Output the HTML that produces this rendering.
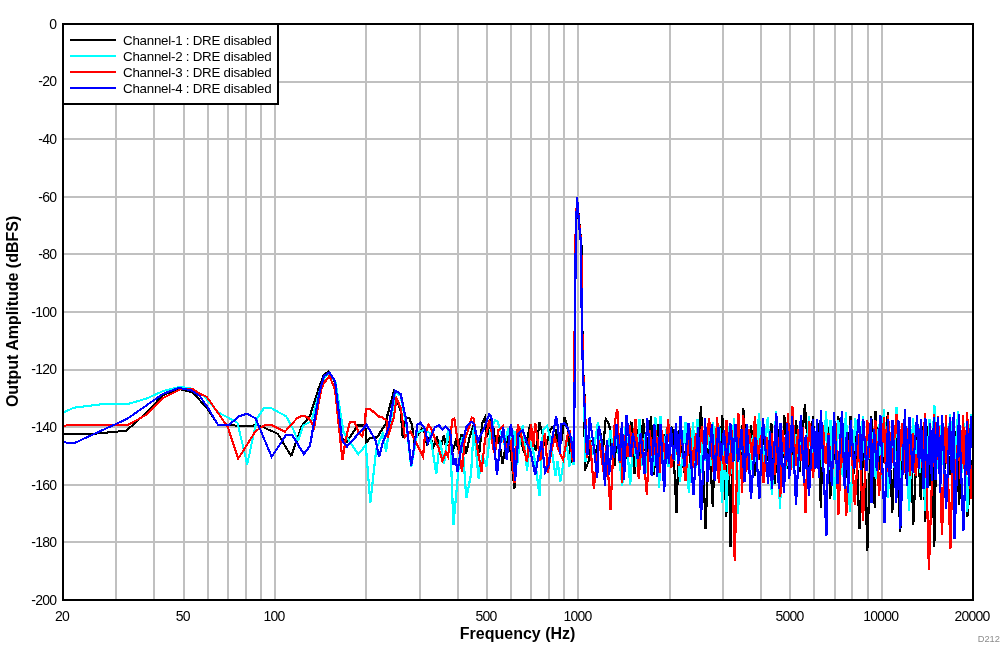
<!DOCTYPE html>
<html><head><meta charset="utf-8"><title>Output Amplitude vs Frequency</title>
<style>
html,body{margin:0;padding:0;background:#fff;}
svg{display:block;font-family:"Liberation Sans",Arial,sans-serif;}
.t{font-size:13.33px;fill:#000;}
.b{font-size:16px;font-weight:bold;fill:#000;}
.tr{fill:none;stroke-width:2;stroke-linejoin:miter;shape-rendering:crispEdges;}
.w{stroke-width:2.2;}
.g line{stroke:#c0c0c0;stroke-width:2;shape-rendering:crispEdges;}
</style></head><body>
<svg width="1008" height="652" viewBox="0 0 1008 652">
<rect width="1008" height="652" fill="#fff"/>
<g class="g"><line x1="116" y1="24" x2="116" y2="600"/><line x1="154" y1="24" x2="154" y2="600"/><line x1="184" y1="24" x2="184" y2="600"/><line x1="208" y1="24" x2="208" y2="600"/><line x1="228" y1="24" x2="228" y2="600"/><line x1="246" y1="24" x2="246" y2="600"/><line x1="261" y1="24" x2="261" y2="600"/><line x1="275" y1="24" x2="275" y2="600"/><line x1="366" y1="24" x2="366" y2="600"/><line x1="420" y1="24" x2="420" y2="600"/><line x1="458" y1="24" x2="458" y2="600"/><line x1="487" y1="24" x2="487" y2="600"/><line x1="511" y1="24" x2="511" y2="600"/><line x1="531" y1="24" x2="531" y2="600"/><line x1="549" y1="24" x2="549" y2="600"/><line x1="564" y1="24" x2="564" y2="600"/><line x1="578" y1="24" x2="578" y2="600"/><line x1="670" y1="24" x2="670" y2="600"/><line x1="723" y1="24" x2="723" y2="600"/><line x1="761" y1="24" x2="761" y2="600"/><line x1="790" y1="24" x2="790" y2="600"/><line x1="814" y1="24" x2="814" y2="600"/><line x1="835" y1="24" x2="835" y2="600"/><line x1="852" y1="24" x2="852" y2="600"/><line x1="868" y1="24" x2="868" y2="600"/><line x1="882" y1="24" x2="882" y2="600"/><line x1="63" y1="82" x2="973" y2="82"/><line x1="63" y1="139" x2="973" y2="139"/><line x1="63" y1="197" x2="973" y2="197"/><line x1="63" y1="254" x2="973" y2="254"/><line x1="63" y1="312" x2="973" y2="312"/><line x1="63" y1="370" x2="973" y2="370"/><line x1="63" y1="427" x2="973" y2="427"/><line x1="63" y1="485" x2="973" y2="485"/><line x1="63" y1="542" x2="973" y2="542"/></g>
<polyline class="tr" stroke="#000" points="63.0,434.0 92.0,434.0 126.3,430.7 139.6,418.9 163.3,395.1 178.7,388.8 192.6,392.3 199.6,400.0 206.8,408.0 217.9,424.8 251.4,426.2 255.6,424.8 264.0,427.6 277.9,433.8 291.2,456.2"/>
<polyline class="tr w" stroke="#000" points="291.2,456.2 301.7,426.2 310.0,415.7 318.4,389.2 324.0,374.6 328.8,371.5 334.5,381.0 341.5,438.0 347.0,441.6 357.5,425.5 363.0,425.5 365.8,429.0 366.5,442.3 370.0,438.1 377.0,437.4 386.1,423.4 387.5,415.0 393.8,392.0 400.7,410.9 402.8,438.1 404.9,417.8 409.1,417.8 411.9,424.8 414.0,440.2 421.7,429.0 425.0,432.9 427.1,445.4 430.0,436.0 433.5,447.0 437.0,438.0 441.0,446.8 443.8,435.0 446.0,447.0 449.0,438.0 452.5,452.0 456.0,440.0 458.5,450.0 461.3,434.3 463.4,441.3 466.1,453.8 469.6,437.1 473.0,427.0 476.0,440.0 479.4,452.4 482.2,423.1 485.0,417.6 487.1,437.1 490.0,420.0 492.1,419.0 495.6,442.7 498.5,436.0 502.6,463.6 505.5,447.0 508.5,434.0 511.6,460.8 514.4,488.7 517.0,447.0 520.0,436.0 523.5,450.0 527.0,440.0 530.4,423.8 533.0,440.0 536.0,451.0 539.5,422.4 542.3,432.9 546.0,447.0 550.0,430.1 552.1,427.3 555.5,430.0 558.5,445.0 561.7,439.9 564.5,417.6 567.3,425.9 571.5,462.2 574.0,462.0 575.7,243.0 577.0,198.5 579.8,228.0 581.4,243.0 582.0,308.0 583.1,369.0 584.5,396.0 584.7,470.6 588.9,460.8 592.0,440.0 596.0,455.0 600.0,430.0 603.0,450.0 605.7,419.0 609.2,424.5 612.0,450.0 614.5,466.1 617.4,424.2 621.3,469.1 624.3,434.2 627.7,459.9 631.6,421.6 634.4,474.2 636.9,428.9 639.0,470.3 643.1,419.1 646.2,458.8 651.0,416.3 653.8,475.4 657.9,424.0 661.6,461.6 665.4,434.2 668.6,461.4 672.3,426.6 676.5,512.5 679.3,429.8 684.1,472.4 687.3,428.1 690.3,464.6 693.8,434.6 697.8,457.5 701.0,406.3 705.6,529.3 709.1,435.5 712.8,507.1 715.2,432.3 719.5,458.1 722.3,415.4 726.3,517.1 728.5,430.6 730.5,547.0 732.7,430.2 735.1,460.7 738.4,431.8 740.9,467.7 743.3,408.3 747.2,464.0 751.1,425.4 755.0,475.8 758.0,435.4 760.2,460.3 763.6,437.4 768.3,461.1 771.4,423.5 774.8,483.6 778.1,429.1 781.5,479.3 784.3,415.4 787.8,468.5 790.8,428.7 792.6,466.0 796.1,420.4 799.5,471.9 804.9,404.5 809.3,466.8 813.0,416.3 815.0,465.4 818.6,423.3 820.8,508.4 822.9,424.8 825.2,462.6 828.5,427.4 830.3,499.3 832.4,433.0 835.8,461.2 838.3,416.3 841.6,470.7 844.5,429.4 847.1,478.1 850.5,416.4 853.5,473.5 856.2,433.7 859.4,529.2 864.2,432.1 867.3,551.3 871.3,416.3 874.8,508.4 875.4,411.3 879.1,470.3 881.0,423.6 884.3,463.4 887.9,412.3 892.3,513.0 895.6,427.2 900.3,532.1 903.3,427.3 906.7,480.7 910.3,431.9 913.3,524.5 917.4,434.2 920.8,500.0 923.0,426.1 925.1,522.2 927.2,425.9 929.9,485.5 931.7,434.7 934.3,547.4 936.5,428.0 938.7,464.6 942.4,430.3 944.4,469.1 947.0,434.9 949.7,474.6 952.3,428.5 954.0,474.3 956.3,430.6 959.1,505.3 963.4,425.1 967.3,516.8 973.0,456.0"/>
<polyline class="tr" stroke="#0ff" points="63.0,412.6 74.0,407.7 101.9,404.2 128.4,403.8 146.5,398.6 163.3,390.9 178.7,387.0 189.8,387.9 204.0,396.1 217.9,412.2 237.5,422.7 247.2,464.5 257.0,418.5 264.0,408.0 271.0,408.0 286.3,416.4 293.3,429.6 298.2,441.0"/>
<polyline class="tr w" stroke="#0ff" points="298.2,441.0 303.1,425.5 311.4,421.3 319.8,390.6 324.5,377.0 329.5,373.5 335.5,382.0 343.5,432.0 358.2,454.3 365.8,445.2 370.3,503.2 376.3,448.7 382.6,433.4 386.1,451.5 388.2,436.2 395.5,392.0 400.7,396.0 406.3,424.0 411.2,466.9 417.5,432.0 424.0,430.0 430.0,433.0 436.3,473.9 440.0,440.0 444.0,464.1 447.0,440.0 448.0,428.7 450.5,447.0 453.4,525.0 459.9,453.8 462.0,437.1 466.3,498.3 471.0,474.7 473.8,427.3 478.7,478.9 482.5,455.0 486.4,466.4 490.6,430.1 494.9,420.3 497.7,421.7 501.0,433.0 504.5,445.0 508.1,428.7 511.0,440.0 514.4,430.8 517.2,465.0 520.0,440.0 522.8,425.2 527.0,470.6 530.0,441.0 533.2,451.0 536.3,470.0 539.5,495.7 543.0,430.1 547.2,425.9 550.5,440.0 555.5,476.1 557.6,460.8 560.3,481.7 563.8,460.8 566.5,442.0 569.4,466.4 572.2,437.1 573.6,465.0 573.7,462.0 575.4,243.0 577.0,198.5 579.4,228.0 581.0,243.0 581.6,308.0 582.8,369.0 584.1,396.0 585.4,462.2 589.0,435.0 593.0,455.0 598.0,421.7 601.5,450.0 606.0,465.0 610.6,430.1 613.0,452.0 615.5,428.1 622.3,485.5 625.6,426.8 630.2,484.9 633.6,435.4 636.6,466.5 639.5,419.1 641.5,465.7 645.0,434.6 647.5,473.3 649.9,431.4 653.2,471.5 655.4,417.3 659.3,488.0 660.6,416.3 663.5,464.2 666.1,429.3 668.5,466.6 671.2,436.3 674.7,460.6 676.7,436.1 680.0,481.8 685.4,421.6 688.8,492.6 693.1,422.5 695.2,473.1 697.6,419.5 700.2,476.3 702.7,439.5 704.9,460.8 708.0,425.4 710.7,465.6 713.1,421.6 716.2,465.9 719.3,424.7 722.0,503.4 724.4,436.8 726.5,512.0 728.9,426.5 731.6,474.4 733.9,418.5 738.1,514.0 740.9,432.8 744.4,471.7 747.6,435.2 750.7,469.5 752.8,435.1 756.6,461.7 758.9,413.5 762.4,466.1 767.8,417.3 771.9,495.0 776.1,411.5 780.0,509.0 782.8,435.3 786.0,468.5 789.9,440.9 792.4,467.8 795.5,434.2 798.7,467.4 802.0,430.4 805.2,462.7 809.0,416.3 811.7,466.2 815.0,433.7 817.1,465.9 820.7,428.9 822.8,470.2 826.1,411.3 828.6,470.3 830.5,420.4 834.5,500.0 838.3,420.4 842.8,477.1 845.9,412.3 849.9,512.0 855.3,418.5 858.7,463.2 863.1,416.3 865.3,469.6 868.7,423.1 870.8,462.1 873.2,432.5 875.7,478.7 878.9,424.0 881.8,478.5 883.8,409.1 888.0,498.4 890.8,433.7 894.1,467.7 896.5,407.5 899.3,483.8 902.0,427.5 904.6,465.3 906.4,429.1 909.0,511.4 913.1,418.3 915.6,473.9 918.4,426.1 919.9,473.2 922.4,431.3 925.1,511.0 929.4,419.1 931.4,463.7 934.4,405.4 937.1,469.2 939.7,425.3 942.8,465.0 945.1,432.4 947.7,464.5 950.0,414.5 954.1,477.9 958.1,411.3 961.3,475.2 963.9,422.6 967.3,512.0 971.0,414.5 973.0,456.0"/>
<polyline class="tr" stroke="#f00" points="63.0,426.1 68.4,425.1 128.4,424.7 146.5,414.7 163.3,397.9 181.4,388.8 192.6,388.8 199.6,393.7 206.8,396.8 227.7,426.9 238.2,458.7 255.6,431.0 265.4,424.8 271.0,424.8 284.9,431.7 297.5,417.8"/>
<polyline class="tr w" stroke="#f00" points="297.5,417.8 303.1,415.7 308.6,417.8 314.2,426.9 321.2,389.2 324.0,382.9 329.5,376.0 335.1,389.9 342.4,459.9 345.6,440.2 349.8,422.0 354.7,422.0 358.9,433.2 362.3,436.0 365.1,423.4 365.8,408.8 370.0,408.8 378.4,416.4 381.9,417.1 386.8,420.6 387.5,437.4 393.8,417.8 396.5,398.3 400.7,408.0 404.9,437.4 410.5,431.8 414.7,440.2 423.1,456.4 425.0,434.3 428.5,424.5 431.3,428.7 434.8,438.5 438.2,446.8 442.4,460.8 445.9,452.4 448.0,456.6 450.1,439.9 452.2,420.3 454.3,418.3 456.4,432.9 458.5,445.4 462.0,472.0 464.7,439.9 468.2,430.1 471.7,417.6 473.8,419.0 477.3,448.2 481.5,472.0 485.0,439.9 489.2,420.3 491.9,432.9 492.8,446.8 494.9,453.8 498.4,430.1 503.2,425.9 503.9,441.3 507.5,447.0 510.9,441.3 514.4,483.1 517.9,424.5 520.0,430.1 527.0,462.2 531.1,424.5 533.2,446.8 535.3,423.1 540.2,460.8 545.0,432.9 547.8,473.3 551.3,451.0 554.8,437.1 559.0,451.0 563.1,459.4 568.0,432.9 570.1,431.5 572.2,459.4 573.6,462.0 575.3,243.0 577.0,198.5 579.7,228.0 581.3,243.0 581.9,308.0 583.1,369.0 584.4,396.0 585.8,427.0 586.8,458.0 590.0,440.0 593.8,488.7 599.0,440.0 603.6,472.0 606.5,445.0 610.4,510.2 614.7,423.1 617.3,408.8 619.8,463.0 621.1,432.2 622.1,483.0 624.2,435.1 627.6,457.2 629.9,424.7 632.2,456.8 635.4,419.1 638.7,478.5 642.2,437.8 646.9,495.2 649.5,429.9 653.0,458.9 655.8,430.2 659.4,473.2 661.9,430.3 665.6,460.3 668.1,419.1 671.3,468.2 675.8,437.4 678.7,465.5 681.5,432.2 685.4,481.0 689.6,428.3 692.8,467.5 695.9,433.0 698.3,464.8 701.9,426.4 705.0,459.0 709.1,418.5 713.8,474.4 717.3,417.3 718.7,483.4 720.8,446.5 724.6,469.7 726.6,420.4 729.7,475.5 731.7,429.8 734.7,560.7 738.4,413.5 742.3,493.0 743.3,415.4 746.3,471.6 748.9,429.0 752.4,459.8 754.9,416.3 757.7,459.6 760.9,435.6 763.6,483.0 766.9,436.8 769.3,463.1 771.8,432.6 774.8,474.6 777.3,435.1 780.3,497.0 782.9,430.4 785.7,465.6 788.0,413.3 790.4,471.2 792.4,406.3 795.6,465.5 798.1,429.0 800.6,460.6 802.9,426.8 805.4,513.3 809.3,421.0 813.1,477.7 815.5,434.0 818.3,461.0 822.9,425.0 825.7,463.5 828.6,432.9 831.6,480.7 835.6,423.2 838.4,514.7 842.0,430.7 846.3,516.0 850.3,424.9 854.8,505.1 859.1,434.3 863.0,521.4 867.3,420.4 871.2,464.3 875.4,420.4 879.1,496.0 884.0,417.3 886.2,480.7 887.9,415.4 892.3,462.7 896.5,414.5 899.3,463.0 902.0,423.0 904.7,472.9 908.2,427.9 910.1,476.0 913.0,432.9 915.8,475.5 919.8,428.5 922.6,468.1 925.0,413.3 928.9,570.4 934.2,414.5 935.9,473.1 938.1,416.3 942.0,535.2 946.0,415.4 950.4,549.0 953.3,437.4 955.9,488.2 958.1,432.9 960.8,482.3 963.1,415.4 965.1,486.5 967.1,412.3 971.1,499.2 973.0,456.0"/>
<polyline class="tr" stroke="#00f" points="63.0,441.9 68.4,442.9 74.7,442.9 127.0,418.9 163.3,393.7 178.7,387.9 191.2,390.2 199.6,395.8 208.1,408.0 217.9,424.8 228.4,425.5 238.9,416.4 247.2,413.6 255.6,418.5 271.7,456.9 286.3,434.5 291.9,434.5"/>
<polyline class="tr w" stroke="#00f" points="291.9,434.5 303.8,454.1 310.0,445.7 313.5,425.5 319.8,390.6 324.0,376.0 329.5,372.5 335.1,381.5 342.1,440.2 347.0,446.5 366.5,424.8 375.6,440.2 379.1,457.1 382.6,443.0 388.2,429.0 395.1,390.6 400.7,394.1 406.3,420.6 411.2,465.5 417.5,424.8 420.3,422.7 425.0,428.7 427.8,442.7 432.0,434.3 434.8,427.3 438.9,425.2 442.4,429.4 445.9,426.6 450.1,430.8 453.6,465.0 455.7,458.0 457.4,472.0 461.3,446.8 466.8,425.9 471.0,421.7 473.8,423.8 478.0,441.3 480.8,435.0 485.0,425.9 489.2,414.1 491.2,416.2 492.1,423.1 497.0,474.7 499.8,446.8 503.2,427.3 506.7,459.4 510.9,423.8 513.0,439.9 515.1,481.0 518.6,432.9 522.8,430.1 526.3,441.3 530.4,451.0 535.3,474.7 538.1,458.0 541.6,441.3 545.1,471.9 548.6,465.0 552.0,439.9 556.2,416.2 558.3,430.1 560.1,453.8 561.0,424.5 564.5,423.1 567.3,427.3 570.8,437.1 572.9,451.0 574.0,462.0 575.7,243.0 577.0,197.0 579.4,228.0 581.0,243.0 581.6,308.0 582.8,369.0 584.1,396.0 585.5,427.0 587.5,455.0 589.6,417.6 593.1,441.3 597.3,477.5 598.7,425.9 602.2,444.0 605.0,485.9 607.1,439.9 609.2,474.7 611.9,442.7 614.0,458.0 616.5,424.2 619.6,460.7 622.0,422.3 624.1,480.2 626.6,414.8 630.6,456.5 632.9,432.7 637.6,458.9 640.7,433.5 644.5,473.9 647.3,418.3 651.7,475.7 654.4,424.4 657.2,476.7 660.4,424.1 664.2,491.8 666.7,434.5 669.0,463.7 670.9,427.4 673.7,460.0 676.0,423.3 678.3,464.0 680.4,416.3 684.3,467.1 688.5,423.5 693.4,494.9 698.1,427.3 701.0,520.1 705.1,418.5 707.5,482.3 711.9,423.8 714.7,480.7 718.4,427.0 720.9,460.6 723.9,429.9 726.7,463.7 730.4,423.4 733.3,462.1 735.4,423.7 738.2,462.0 741.5,429.2 744.4,482.3 746.8,424.1 751.0,498.6 755.3,436.8 759.4,498.6 763.0,418.5 768.2,484.0 769.9,431.2 771.9,489.0 776.3,413.0 778.8,488.5 780.5,423.3 783.9,493.0 787.1,423.4 789.3,479.1 792.0,416.0 796.0,505.0 800.9,415.4 803.9,482.8 805.7,435.0 809.0,495.8 813.0,419.1 815.4,468.6 817.0,419.1 818.9,477.6 820.9,410.4 826.4,535.6 828.4,434.6 831.9,486.3 834.0,412.3 837.6,483.9 842.0,411.3 844.7,488.6 846.8,432.0 848.1,492.5 850.8,420.4 854.3,469.2 859.0,414.5 861.0,470.0 863.3,419.1 866.4,471.2 871.0,418.5 871.5,503.0 874.1,428.9 876.8,471.3 880.4,415.4 884.5,522.9 888.1,419.1 889.8,483.7 892.5,420.4 896.3,503.0 898.4,420.4 900.3,529.0 905.0,409.1 906.9,485.9 909.4,417.3 912.7,472.8 917.1,415.4 919.0,469.4 921.0,419.1 923.6,488.6 925.4,418.3 927.4,488.1 930.2,422.8 931.8,480.8 934.0,417.3 935.6,480.4 937.8,417.3 940.2,492.7 942.1,415.4 946.1,509.1 950.0,417.3 951.7,472.5 953.8,412.3 954.5,539.0 959.0,414.5 963.4,531.3 967.1,421.0 968.9,485.6 971.0,416.0 973.0,456.0"/>

<rect x="63" y="24" width="910" height="576" fill="none" stroke="#000" stroke-width="2" shape-rendering="crispEdges"/>
<rect x="63" y="24" width="215" height="80" fill="#fff" stroke="#000" stroke-width="2" shape-rendering="crispEdges"/>
<g class="t" style="letter-spacing:-0.24px"><line x1="70" y1="40" x2="116" y2="40" stroke="#000" stroke-width="2"/><text x="123" y="44.7">Channel-1 : DRE disabled</text><line x1="70" y1="56" x2="116" y2="56" stroke="#0ff" stroke-width="2"/><text x="123" y="60.7">Channel-2 : DRE disabled</text><line x1="70" y1="72" x2="116" y2="72" stroke="#f00" stroke-width="2"/><text x="123" y="76.7">Channel-3 : DRE disabled</text><line x1="70" y1="88" x2="116" y2="88" stroke="#00f" stroke-width="2"/><text x="123" y="92.7">Channel-4 : DRE disabled</text></g>
<g class="t" style="font-size:14px;letter-spacing:-0.78px"><text x="56.2" y="28.8" text-anchor="end">0</text><text x="56.2" y="86.4" text-anchor="end">-20</text><text x="56.2" y="144.0" text-anchor="end">-40</text><text x="56.2" y="201.6" text-anchor="end">-60</text><text x="56.2" y="259.2" text-anchor="end">-80</text><text x="56.2" y="316.8" text-anchor="end">-100</text><text x="56.2" y="374.4" text-anchor="end">-120</text><text x="56.2" y="432.0" text-anchor="end">-140</text><text x="56.2" y="489.6" text-anchor="end">-160</text><text x="56.2" y="547.2" text-anchor="end">-180</text><text x="56.2" y="604.8" text-anchor="end">-200</text><text x="62.0" y="620.7" text-anchor="middle">20</text><text x="182.7" y="620.7" text-anchor="middle">50</text><text x="274.0" y="620.7" text-anchor="middle">100</text><text x="486.0" y="620.7" text-anchor="middle">500</text><text x="577.4" y="620.7" text-anchor="middle">1000</text><text x="789.4" y="620.7" text-anchor="middle">5000</text><text x="880.7" y="620.7" text-anchor="middle">10000</text><text x="972.0" y="620.7" text-anchor="middle">20000</text></g>
<text class="b" x="517.6" y="639.3" text-anchor="middle">Frequency (Hz)</text>
<text class="b" transform="translate(17.9,311.4) rotate(-90)" text-anchor="middle">Output Amplitude (dBFS)</text>
<text x="977.7" y="641.6" font-size="9.33px" fill="#8c8c8c">D212</text>
</svg>
</body></html>
